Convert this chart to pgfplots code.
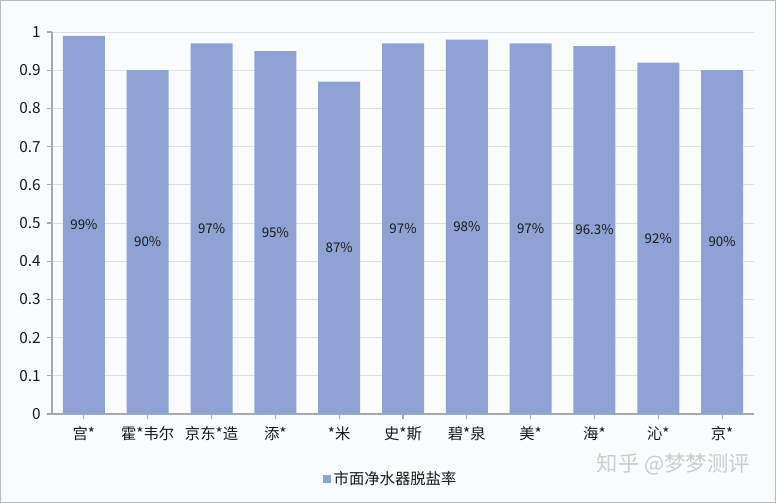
\documentclass[border=0pt]{standalone}
\usepackage{pgfplots}
\pgfplotsset{compat=1.18}
\usepackage{fontspec}
\setmainfont{Noto Sans CJK SC}
\definecolor{barc}{RGB}{142,163,212}
\definecolor{bgc}{RGB}{250,251,253}
\definecolor{gridc}{RGB}{222,224,228}
\definecolor{axc}{RGB}{165,168,175}
\begin{document}
\begin{tikzpicture}
\fill[bgc] (0,0) rectangle (582pt,377.25pt);
\draw[axc!80, line width=1pt] (0.5pt,0.5pt) rectangle (581.5pt,376.75pt);
\useasboundingbox (0,0) rectangle (582pt,377.25pt);
\begin{axis}[
  at={(39pt,66.75pt)}, anchor=south west,
  scale only axis, width=526.5pt, height=286.5pt,
  xmin=-0.5, xmax=10.5, ymin=0, ymax=1,
  axis x line*=bottom, axis y line*=left,
  axis line style={axc, line width=0.8pt},
  ymajorgrids, grid style={gridc, line width=0.6pt},
  ytick={0,0.1,...,1.0},
  yticklabels={0,0.1,0.2,0.3,0.4,0.5,0.6,0.7,0.8,0.9,1},
  xtick={0,...,10},
  xticklabels={宫*,霍*韦尔,京东*造,添*,*米,史*斯,碧*泉,美*,海*,沁*,京*},
  tick align=outside, tick style={axc, line width=0.8pt},
  major tick length=4pt,
  /pgf/number format/assume math mode=true,
  ticklabel style={font=\fontsize{11.5}{13}\selectfont, text=black!90},
  xticklabel style={yshift=-2pt},
  yticklabel style={xshift=-1pt},
  legend style={at={(0.483,-0.17)}, anchor=center, draw=none, fill=none,
    font=\fontsize{11.5}{13}\selectfont, text=black!90},
  legend image code/.code={\fill[barc] (0pt,-3pt) rectangle (6pt,3pt);},
]
\addplot[ybar, bar width=31.5pt, fill=barc, draw=none, bar shift=0pt]
  coordinates {(0,0.99) (1,0.90) (2,0.97) (3,0.95) (4,0.87) (5,0.97) (6,0.98) (7,0.97) (8,0.963) (9,0.92) (10,0.90)};
\addlegendentry{市面净水器脱盐率}
\addplot[draw=none, mark=none, nodes near coords, point meta=explicit symbolic,
  every node near coord/.style={anchor=center, font=\fontsize{10}{11}\selectfont, text=black!90}, forget plot]
  table[meta=lab] {
x y lab
0 0.495 99\%
1 0.45 90\%
2 0.485 97\%
3 0.475 95\%
4 0.435 87\%
5 0.485 97\%
6 0.49 98\%
7 0.485 97\%
8 0.4815 96.3\%
9 0.46 92\%
10 0.45 90\%
};
\end{axis}
\node[anchor=center, text=black!20, font=\fontsize{16}{18}\selectfont] at (505pt,29pt) {知乎 @梦梦测评};
\end{tikzpicture}
\end{document}
